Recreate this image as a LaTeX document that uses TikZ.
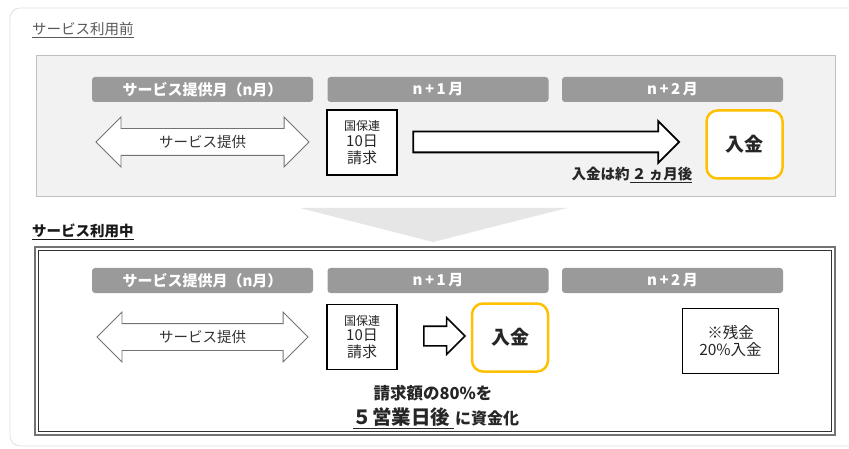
\documentclass[tikz,border=0pt]{standalone}
\usepackage{fontspec}
\setmainfont{Noto Sans CJK JP}
\usetikzlibrary{shapes.arrows}
\definecolor{bargray}{HTML}{9A9A9A}
\definecolor{panelfill}{HTML}{F2F2F2}
\definecolor{panelline}{HTML}{C0C0C0}
\definecolor{chev}{HTML}{E6E6E6}
\definecolor{payorange}{HTML}{FFC000}
\definecolor{txtgray}{HTML}{595959}
\newcommand{\fs}[1]{\fontsize{#1}{#1}\selectfont}
\tikzset{
  bar/.style={rectangle, rounded corners=3pt, fill=bargray, text=white,
    font=\bfseries\fs{15}, minimum width=221pt, minimum height=25pt, inner sep=0pt},
  kbox/.style={rectangle, draw=black, line width=1.8pt, fill=white,
    minimum width=70pt, minimum height=65pt, align=center, inner sep=0pt, text=black!85},
  paybox/.style={rectangle, draw=payorange, line width=2.5pt, rounded corners=11pt,
    fill=white, minimum width=76pt, minimum height=68pt, font=\bfseries\fs{19}, inner sep=0pt, text=black!85},
  dblarrow/.style={double arrow, draw=black!55, line width=0.8pt, fill=white,
    minimum height=213pt, inner xsep=0pt, inner ysep=13pt, double arrow head extend=11.5pt,
    double arrow tip angle=90},
  bigarrow/.style={single arrow, draw=black, line width=1.8pt, fill=white,
    single arrow tip angle=90, inner xsep=0pt},
  lbl/.style={inner sep=0pt, anchor=west}
}
\begin{document}
\begin{tikzpicture}[x=1pt,y=-1pt]
\useasboundingbox (0,0) rectangle (849,449);
% outer panel
\draw[draw=black!12, line width=0.8pt, rounded corners=10pt, fill=white] (10,8) rectangle (870,446);
% title top
\node[lbl, text=txtgray, font=\fs{14.5}] (t1) at (32,30) {\underline{サービス利用前}};
% top panel
\draw[draw=panelline, line width=1pt, fill=panelfill] (36,56) rectangle (835,197);
% bars top
\node[bar] (b1) at (202.5,89.5) {サービス提供月（n月）};
\node[bar] (b2) at (438,89.5) {n\,+\,1\,月};
\node[bar] (b3) at (672.5,89.5) {n\,+\,2\,月};
% top row
\node[dblarrow] (d1) at (202.5,142) {};
\node[font=\fs{14.5}, text=black!80, inner sep=0pt] (d1t) at (d1.center) {サービス提供};
\node[kbox] (k1) at (362,142.5) {{\fs{12}国保連}\\[2pt]{\fs{15}10日}\\[2pt]{\fs{15}請求}};
\node[bigarrow, minimum height=266pt, inner ysep=9.5pt, single arrow head extend=10.5pt] (a1) at (541,142) {};
\node[paybox] (p1) at (744.5,144.5) {入金};
\node[inner sep=0pt, font=\bfseries\fs{14.5}, text=black!85] (n1) at (632,175) {入金は約\underline{\,２\,ヵ月後}};
% chevron
\fill[chev] (300,208) -- (567,208) -- (433,242) -- cycle;
% title bottom
\node[lbl, text=black!90, font=\bfseries\fs{14.5}] (t2) at (32,232) {\underline{サービス利用中}};
% bottom panel
\draw[draw=black!55, line width=2.2pt, fill=white] (35,247) rectangle (835,435);
\draw[draw=black!80, line width=0.8pt] (38.5,250.5) rectangle (831.5,431.5);
% bars bottom
\node[bar] (b4) at (202.5,280.5) {サービス提供月（n月）};
\node[bar] (b5) at (438,280.5) {n\,+\,1\,月};
\node[bar] (b6) at (672.5,280.5) {n\,+\,2\,月};
% bottom row
\node[dblarrow, minimum height=211pt] (d2) at (202.5,337) {};
\node[font=\fs{14.5}, text=black!80, inner sep=0pt] (d2t) at (d2.center) {サービス提供};
\node[kbox] (k2) at (362,337) {{\fs{12}国保連}\\[2pt]{\fs{15}10日}\\[2pt]{\fs{15}請求}};
\node[bigarrow, line width=1.6pt, minimum height=41pt, inner ysep=9pt, single arrow head extend=8.5pt] (a2) at (439.5,336) {};
\node[paybox] (p2) at (510,337.5) {入金};
\node[kbox, minimum width=96pt, minimum height=65pt, font=\fs{15.5}] (r2) at (730.5,341) {※残金\\[1pt]20\%入金};
% bottom text
\node[inner sep=0pt, font=\bfseries\fs{16.5}, text=black!85] (m1) at (433,393) {請求額の80\%を};
\node[inner sep=0pt, text=black!85] (m2) at (436,418) {{\bfseries\fs{19.5}\underline{５営業日後\,}}\,{\bfseries\fs{16}に資金化}};
\end{tikzpicture}
\end{document}
